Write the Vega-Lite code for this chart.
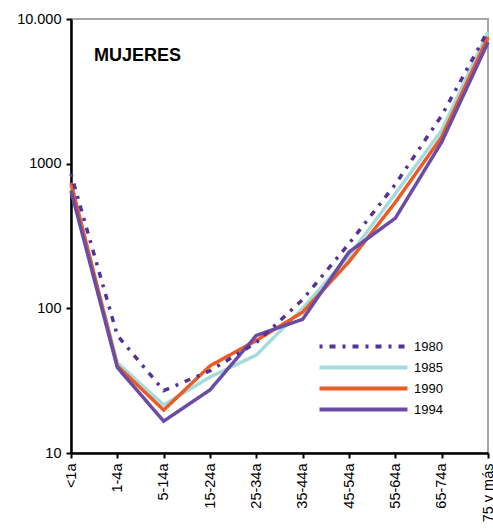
{
  "$schema": "https://vega.github.io/schema/vega-lite/v6.json",
  "width": 417,
  "height": 434,
  "autosize": {"type": "pad"},
  "padding": {"left": 16, "top": 11, "right": 0, "bottom": 0},
  "config": {
    "font": "Liberation Sans",
    "view": {"stroke": "#A6A6A6", "strokeWidth": 2},
    "legend": {
      "orient": "none",
      "legendX": 283,
      "legendY": 318,
      "padding": 0,
      "symbolType": "M-6,0H6",
      "symbolSize": 215,
      "symbolStrokeWidth": 4,
      "labelOffset": 41,
      "labelFontSize": 13,
      "labelColor": "#000000",
      "rowPadding": 3,
      "title": null
    }
  },
  "title": {
    "text": "MUJERES",
    "anchor": "start",
    "frame": "group",
    "offset": -68,
    "dx": 23,
    "fontSize": 18,
    "fontWeight": "bold",
    "color": "#000000",
    "baseline": "alphabetic"
  },
  "data": {
    "values": [
      {"age": "<1a", "year": "1985", "value": 700},
      {"age": "1-4a", "year": "1985", "value": 42},
      {"age": "5-14a", "year": "1985", "value": 21.5},
      {"age": "15-24a", "year": "1985", "value": 33.5},
      {"age": "25-34a", "year": "1985", "value": 47.5},
      {"age": "35-44a", "year": "1985", "value": 100},
      {"age": "45-54a", "year": "1985", "value": 230},
      {"age": "55-64a", "year": "1985", "value": 620},
      {"age": "65-74a", "year": "1985", "value": 1700},
      {"age": "75 y más", "year": "1985", "value": 8100},
      {"age": "<1a", "year": "1990", "value": 735},
      {"age": "1-4a", "year": "1990", "value": 40},
      {"age": "5-14a", "year": "1990", "value": 19.8},
      {"age": "15-24a", "year": "1990", "value": 40},
      {"age": "25-34a", "year": "1990", "value": 60},
      {"age": "35-44a", "year": "1990", "value": 94},
      {"age": "45-54a", "year": "1990", "value": 210},
      {"age": "55-64a", "year": "1990", "value": 540},
      {"age": "65-74a", "year": "1990", "value": 1530},
      {"age": "75 y más", "year": "1990", "value": 7500},
      {"age": "<1a", "year": "1994", "value": 650},
      {"age": "1-4a", "year": "1994", "value": 39},
      {"age": "5-14a", "year": "1994", "value": 16.6},
      {"age": "15-24a", "year": "1994", "value": 27.3},
      {"age": "25-34a", "year": "1994", "value": 65},
      {"age": "35-44a", "year": "1994", "value": 84},
      {"age": "45-54a", "year": "1994", "value": 245},
      {"age": "55-64a", "year": "1994", "value": 420},
      {"age": "65-74a", "year": "1994", "value": 1410},
      {"age": "75 y más", "year": "1994", "value": 6900},
      {"age": "<1a", "year": "1980", "value": 850},
      {"age": "1-4a", "year": "1980", "value": 65},
      {"age": "5-14a", "year": "1980", "value": 27},
      {"age": "15-24a", "year": "1980", "value": 37},
      {"age": "25-34a", "year": "1980", "value": 58},
      {"age": "35-44a", "year": "1980", "value": 115},
      {"age": "45-54a", "year": "1980", "value": 280},
      {"age": "55-64a", "year": "1980", "value": 720},
      {"age": "65-74a", "year": "1980", "value": 2150},
      {"age": "75 y más", "year": "1980", "value": 8300}
    ]
  },
  "mark": {"type": "line", "strokeWidth": 3.5},
  "encoding": {
    "x": {
      "field": "age",
      "type": "ordinal",
      "sort": ["<1a", "1-4a", "5-14a", "15-24a", "25-34a", "35-44a", "45-54a", "55-64a", "65-74a", "75 y más"],
      "scale": {"type": "point", "padding": 0},
      "axis": {
        "title": null,
        "labelAngle": -90,
        "labelFontSize": 14.5,
        "labelColor": "#000000",
        "labelPadding": 5,
        "tickSize": 5,
        "tickWidth": 2,
        "tickColor": "#000000",
        "domainColor": "#000000",
        "domainWidth": 2.5,
        "grid": false
      }
    },
    "y": {
      "field": "value",
      "type": "quantitative",
      "scale": {"type": "log", "domain": [10, 10000]},
      "axis": {
        "title": null,
        "values": [10, 100, 1000, 10000],
        "labelExpr": "datum.value == 10000 ? '10.000' : format(datum.value, 'd')",
        "labelFontSize": 14.5,
        "labelColor": "#000000",
        "labelPadding": 5,
        "tickSize": 5,
        "tickWidth": 2,
        "tickColor": "#000000",
        "domainColor": "#000000",
        "domainWidth": 2.5,
        "grid": false
      }
    },
    "color": {
      "field": "year",
      "type": "nominal",
      "scale": {
        "domain": ["1980", "1985", "1990", "1994"],
        "range": ["#553296", "#A5DCDB", "#EA5B25", "#6B4CA5"]
      },
      "legend": {"title": null}
    },
    "strokeDash": {
      "field": "year",
      "type": "nominal",
      "scale": {
        "domain": ["1980", "1985", "1990", "1994"],
        "range": [[3, 7, 6, 7], [1, 0], [1, 0], [1, 0]]
      },
      "legend": {"title": null}
    }
  }
}
